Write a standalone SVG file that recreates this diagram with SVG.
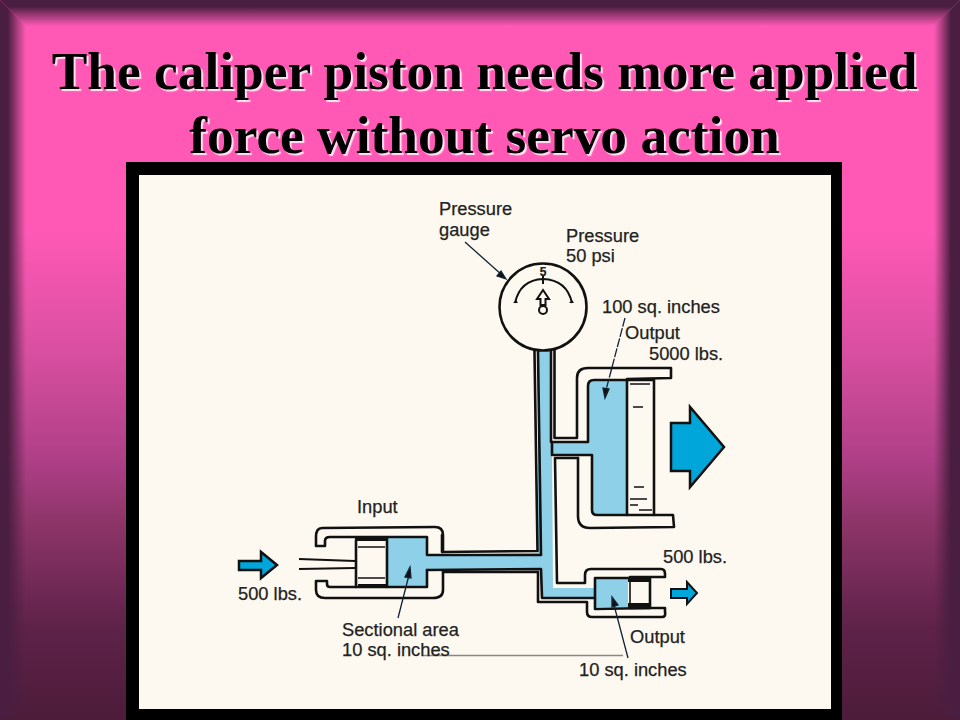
<svg xmlns="http://www.w3.org/2000/svg" width="960" height="720" viewBox="0 0 960 720">
<defs>
<linearGradient id="vert" gradientUnits="userSpaceOnUse" x1="0" y1="0" x2="0" y2="720">
<stop offset="0" stop-color="#ff59b5"/><stop offset="0.32" stop-color="#ff59b5"/><stop offset="0.49" stop-color="#d84fa0"/><stop offset="0.633" stop-color="#b04088"/><stop offset="0.73" stop-color="#8c3468"/><stop offset="0.872" stop-color="#5e2248"/><stop offset="1" stop-color="#4c1c3a"/>
</linearGradient>
<linearGradient id="left" x1="0" y1="0" x2="1" y2="0"><stop offset="0" stop-color="#4a1e40"/><stop offset=".3" stop-color="#4a1e40"/><stop offset="1" stop-color="#4a1e40" stop-opacity="0"/></linearGradient>
<linearGradient id="right" x1="1" y1="0" x2="0" y2="0"><stop offset="0" stop-color="#4a1e40"/><stop offset=".35" stop-color="#4a1e40"/><stop offset="1" stop-color="#4a1e40" stop-opacity="0"/></linearGradient>
<linearGradient id="top" x1="0" y1="0" x2="0" y2="1"><stop offset="0" stop-color="#4a1e40"/><stop offset=".25" stop-color="#4a1e40"/><stop offset="1" stop-color="#4a1e40" stop-opacity="0"/></linearGradient>
</defs>
<style>
.t{font-family:"Liberation Serif","Times New Roman",serif;font-weight:bold;font-size:53.4px;text-anchor:middle;fill:#000;text-shadow:2px 2px 1px #fbe3f2}
.l{font-family:"Liberation Sans",Arial,sans-serif;font-size:18.3px;fill:#222;stroke:#222;stroke-width:.25}
.k{fill:none;stroke:#111;stroke-width:2.6;stroke-linejoin:round;stroke-linecap:round}
.b{fill:#8dd0e8}.d{fill:#00a5d9;stroke:#111;stroke-width:2.5}
.n{fill:none;stroke:#111;stroke-width:1.6}
.f{fill:#111}
</style>
<rect width="960" height="720" fill="url(#vert)"/>
<polygon points="0,0 26,26 26,706 0,720" fill="url(#left)"/>
<polygon points="960,0 934,26 934,706 960,720" fill="url(#right)"/>
<polygon points="0,0 960,0 934,26 26,26" fill="url(#top)"/>
<g id="title">
<text class="t" x="484.5" y="89">The caliper piston needs more applied</text>
<text class="t" x="484.5" y="153">force without servo action</text>
</g>
<rect x="126" y="162" width="716" height="558" fill="#000"/>
<rect x="139" y="175" width="692" height="534" fill="#fdf9f0"/>
<g id="hydraulic-fluid">
<path class="b" d="M538 350H551V442H589V385Q589 381 593 381H627V515H597Q592 515 592 510V455H552L553 588H596V579H628V607H596V598H542L541 570H427V587H388V538H427V555L538 553z"/>
</g>
<g id="output-large">
<path class="k" d="M534.500 350V352L537.500 551L442 552V535"/>
<path class="k" d="M551 350V442H588V386Q588 380 594 380H653"/>
<path class="k" d="M554.500 350V438H577V378Q577 368 588 368H671V378L627 379"/>
<path class="k" d="M578 458H555L557 583H585V575Q585 569 591 569H661Q665 569 665 574V577H630"/>
<path class="k" d="M552 442V455H592V510Q592 515 597 515H673L674 527L590 528Q578 528 578 516V458"/>
<path class="k" d="M627 380V515M654 380V515"/>
<path class="n" d="M630 384H650M633 407H643M634 487H644M630 499H647M630 505H638M639 510H652"/>
<polygon class="d" points="671,423 690,423 690,407 724,447 690,487 690,471 671,471"/>
</g>
<g id="input">
<path class="k" d="M538 352L541 555L427 555V537H330Q325 537 325 541V546H316V537Q316 528 322 528L435 527Q443 527 443 535V552"/>
<path class="k" d="M427 570L541 569L542 598H595"/>
<path class="k" d="M443 572H538V602H587V612Q587 617 592 617H662Q666 617 665 612V608H630"/>
<path class="k" d="M427 570V587H330Q327 587 327 584V581H316V590Q316 598 325 598H433Q443 598 443 590V572"/>
<path class="n" d="M299 559L355 561M299 569L355 568" style="stroke-width:2.200"/>
<path class="k" d="M356 540V587M387 538V587"/>
<path class="f" d="M355 537H388V541H355zM358 584H388V588H358z"/>
<path class="n" d="M358 547H385M358 578H385"/>
<polygon class="d" points="239,561 261,561 261,552 277,565 261,578 261,570 239,570"/>
</g>
<g id="output-small">
<path class="k" d="M595 578V609L650 608V578H595"/>
<path class="f" d="M628 577H650V582H628zM628 603H650V608H628z"/>
<path class="n" d="M630 582V603"/>
<polygon class="d" points="671,589 687,589 687,582 697,593 687,604 687,598 671,598" style="stroke-width:2"/>
</g>
<g id="gauge">
<circle cx="543" cy="307" r="43.500" fill="#fdf9f0" stroke="#111" stroke-width="2.600"/>
<path class="n" d="M515 303Q520 280 543 279Q567 280 572 303" style="stroke-width:2"/>
<path class="f" d="M513 303h5l-2 -3zM569 303h5l-2 -3z"/>
<path class="n" d="M543 275V284" style="stroke-width:2"/>
<path class="n" d="M543 290l-6 9h3.500v6h5v-6h3.500z" style="stroke-width:2"/>
<circle class="n" cx="543" cy="310" r="4" style="stroke-width:2"/>
<text class="l" x="543" y="276" text-anchor="middle" style="font-size:12px;font-weight:bold">5</text>
</g>
<g id="connectors" fill="none" stroke="#123" stroke-width="1.3">
<path d="M465 242L502 275"/><path d="M506 279l-9-3 4-5z" fill="#111"/>
<path d="M625 318L606 390" stroke-dasharray="9 1.500"/><path d="M605 398l-2-10 6 1z" fill="#111"/>
<path d="M398 618L409 575"/><path d="M410 567l-5 10 6 1z" fill="#111"/>
<path d="M628 658L614 605"/><path d="M612 597l0 10 6-2z" fill="#111"/>
<path d="M423 655.500H623" stroke="#888"/>
</g>
<g id="labels">
<text class="l" x="439" y="215">Pressure</text>
<text class="l" x="439" y="236">gauge</text>
<text class="l" x="566" y="242">Pressure</text>
<text class="l" x="566" y="262">50 psi</text>
<text class="l" x="602" y="313">100 sq. inches</text>
<text class="l" x="625" y="339">Output</text>
<text class="l" x="649" y="360">5000 lbs.</text>
<text class="l" x="357" y="513">Input</text>
<text class="l" x="238" y="600">500 lbs.</text>
<text class="l" x="342" y="636">Sectional area</text>
<text class="l" x="342" y="656">10 sq. inches</text>
<text class="l" x="663" y="563">500 lbs.</text>
<text class="l" x="630" y="643">Output</text>
<text class="l" x="579" y="676">10 sq. inches</text>
</g>
</svg>
